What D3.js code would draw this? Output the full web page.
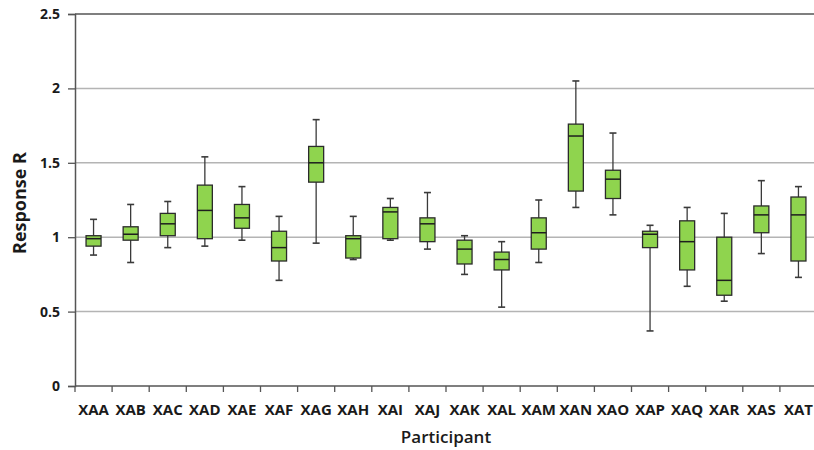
<!DOCTYPE html>
<html>
<head>
<meta charset="utf-8">
<script src="https://cdn.jsdelivr.net/npm/d3@7/dist/d3.min.js"></script>
<style>
  html, body { margin: 0; padding: 0; background: #fff; }
  svg { display: block; }
  text { font-family: "Open Sans", "DejaVu Sans", sans-serif; font-weight: 700; fill: #1a1a1a; }
</style>
</head>
<body>
<svg id="chart" width="814" height="450"></svg>
<script>
// Participants and their box-plot statistics (response R)
const participants = ["XAA","XAB","XAC","XAD","XAE","XAF","XAG","XAH","XAI","XAJ",
                      "XAK","XAL","XAM","XAN","XAO","XAP","XAQ","XAR","XAS","XAT"];
const whiskerLow  = [0.88,0.83,0.93,0.94,0.98,0.71,0.96,0.85,0.98,0.92,0.75,0.53,0.83,1.20,1.15,0.37,0.67,0.57,0.89,0.73];
const quartile1   = [0.94,0.98,1.01,0.99,1.06,0.84,1.37,0.86,0.99,0.97,0.82,0.78,0.92,1.31,1.26,0.93,0.78,0.61,1.03,0.84];
const medians     = [0.99,1.02,1.09,1.18,1.13,0.93,1.50,0.99,1.17,1.09,0.92,0.85,1.03,1.68,1.39,1.02,0.97,0.71,1.15,1.15];
const quartile3   = [1.01,1.07,1.16,1.35,1.22,1.04,1.61,1.01,1.20,1.13,0.98,0.90,1.13,1.76,1.45,1.04,1.11,1.00,1.21,1.27];
const whiskerHigh = [1.12,1.22,1.24,1.54,1.34,1.14,1.79,1.14,1.26,1.30,1.01,0.97,1.25,2.05,1.70,1.08,1.20,1.16,1.38,1.34];
const yTicks = [0, 0.5, 1, 1.5, 2, 2.5];

const rows = participants.map((p, i) => ({
  name: p, lo: whiskerLow[i], q1: quartile1[i], med: medians[i], q3: quartile3[i], hi: whiskerHigh[i]
}));

const svg = d3.select("#chart");
const plotLeft = 75, plotRight = 817, plotTop = 14, plotBottom = 386;

const x = d3.scaleBand().domain(participants).range([plotLeft, plotRight]).padding(0);
const y = d3.scaleLinear().domain([0, 2.5]).range([plotBottom, plotTop]);

// horizontal gridlines
svg.append("g")
  .selectAll("line")
  .data(yTicks.filter(t => t > 0 && t < 2.5))
  .join("line")
  .attr("x1", plotLeft).attr("x2", plotRight)
  .attr("y1", d => y(d)).attr("y2", d => y(d))
  .attr("stroke", "#b4b4b4").attr("stroke-width", 1.5);

// top frame line
svg.append("line")
  .attr("x1", plotLeft).attr("x2", plotRight)
  .attr("y1", y(2.5)).attr("y2", y(2.5))
  .attr("stroke", "#555").attr("stroke-width", 1.5);

// y axis
const yAxis = d3.axisLeft(y).tickValues(yTicks).tickSize(7).tickPadding(8)
  .tickFormat(d => d3.format("~g")(d));
const gy = svg.append("g").attr("transform", `translate(${plotLeft},0)`).call(yAxis);
gy.select(".domain").attr("stroke", "#555").attr("stroke-width", 1.5);
gy.selectAll(".tick line").attr("stroke", "#555").attr("stroke-width", 1.3);
gy.selectAll(".tick text").style("font-size", "14px").attr("fill", "#1a1a1a");

// x axis: ticks at category boundaries
const gx = svg.append("g").attr("transform", `translate(0,${plotBottom})`);
gx.append("line").attr("x1", plotLeft).attr("x2", plotRight).attr("stroke", "#555").attr("stroke-width", 1.5);
gx.selectAll("line.tk")
  .data(participants)
  .join("line")
  .attr("class", "tk")
  .attr("x1", d => x(d)).attr("x2", d => x(d))
  .attr("y1", 0).attr("y2", 6)
  .attr("stroke", "#555").attr("stroke-width", 1.3);
gx.selectAll("text")
  .data(participants)
  .join("text")
  .attr("x", d => x(d) + x.bandwidth() / 2)
  .attr("y", 29)
  .attr("text-anchor", "middle")
  .style("font-size", "15px")
  .text(d => d);

// box plots
const boxW = 15, capW = 7;
const g = svg.append("g");
const item = g.selectAll("g.box").data(rows).join("g")
  .attr("class", "box")
  .attr("transform", d => `translate(${x(d.name) + x.bandwidth() / 2},0)`);

item.append("line")
  .attr("x1", 0).attr("x2", 0)
  .attr("y1", d => y(d.hi)).attr("y2", d => y(d.lo))
  .attr("stroke", "#3a3a3a").attr("stroke-width", 1.3);
item.append("line")
  .attr("x1", -capW / 2).attr("x2", capW / 2)
  .attr("y1", d => y(d.hi)).attr("y2", d => y(d.hi))
  .attr("stroke", "#3a3a3a").attr("stroke-width", 1.6);
item.append("line")
  .attr("x1", -capW / 2).attr("x2", capW / 2)
  .attr("y1", d => y(d.lo)).attr("y2", d => y(d.lo))
  .attr("stroke", "#3a3a3a").attr("stroke-width", 1.6);
item.append("rect")
  .attr("x", -boxW / 2).attr("width", boxW)
  .attr("y", d => y(d.q3)).attr("height", d => y(d.q1) - y(d.q3))
  .attr("fill", "#8fd44e").attr("stroke", "#2b2b2b").attr("stroke-width", 1.3);
item.append("line")
  .attr("x1", -boxW / 2).attr("x2", boxW / 2)
  .attr("y1", d => y(d.med)).attr("y2", d => y(d.med))
  .attr("stroke", "#1e1e1e").attr("stroke-width", 1.5);

// axis titles
svg.append("text")
  .attr("transform", "translate(26,203) rotate(-90)")
  .attr("text-anchor", "middle")
  .style("font-size", "18px")
  .text("Response R");
svg.append("text")
  .attr("x", 446).attr("y", 443)
  .attr("text-anchor", "middle")
  .style("font-size", "17px")
  .style("font-weight", "600")
  .text("Participant");
</script>
</body>
</html>
